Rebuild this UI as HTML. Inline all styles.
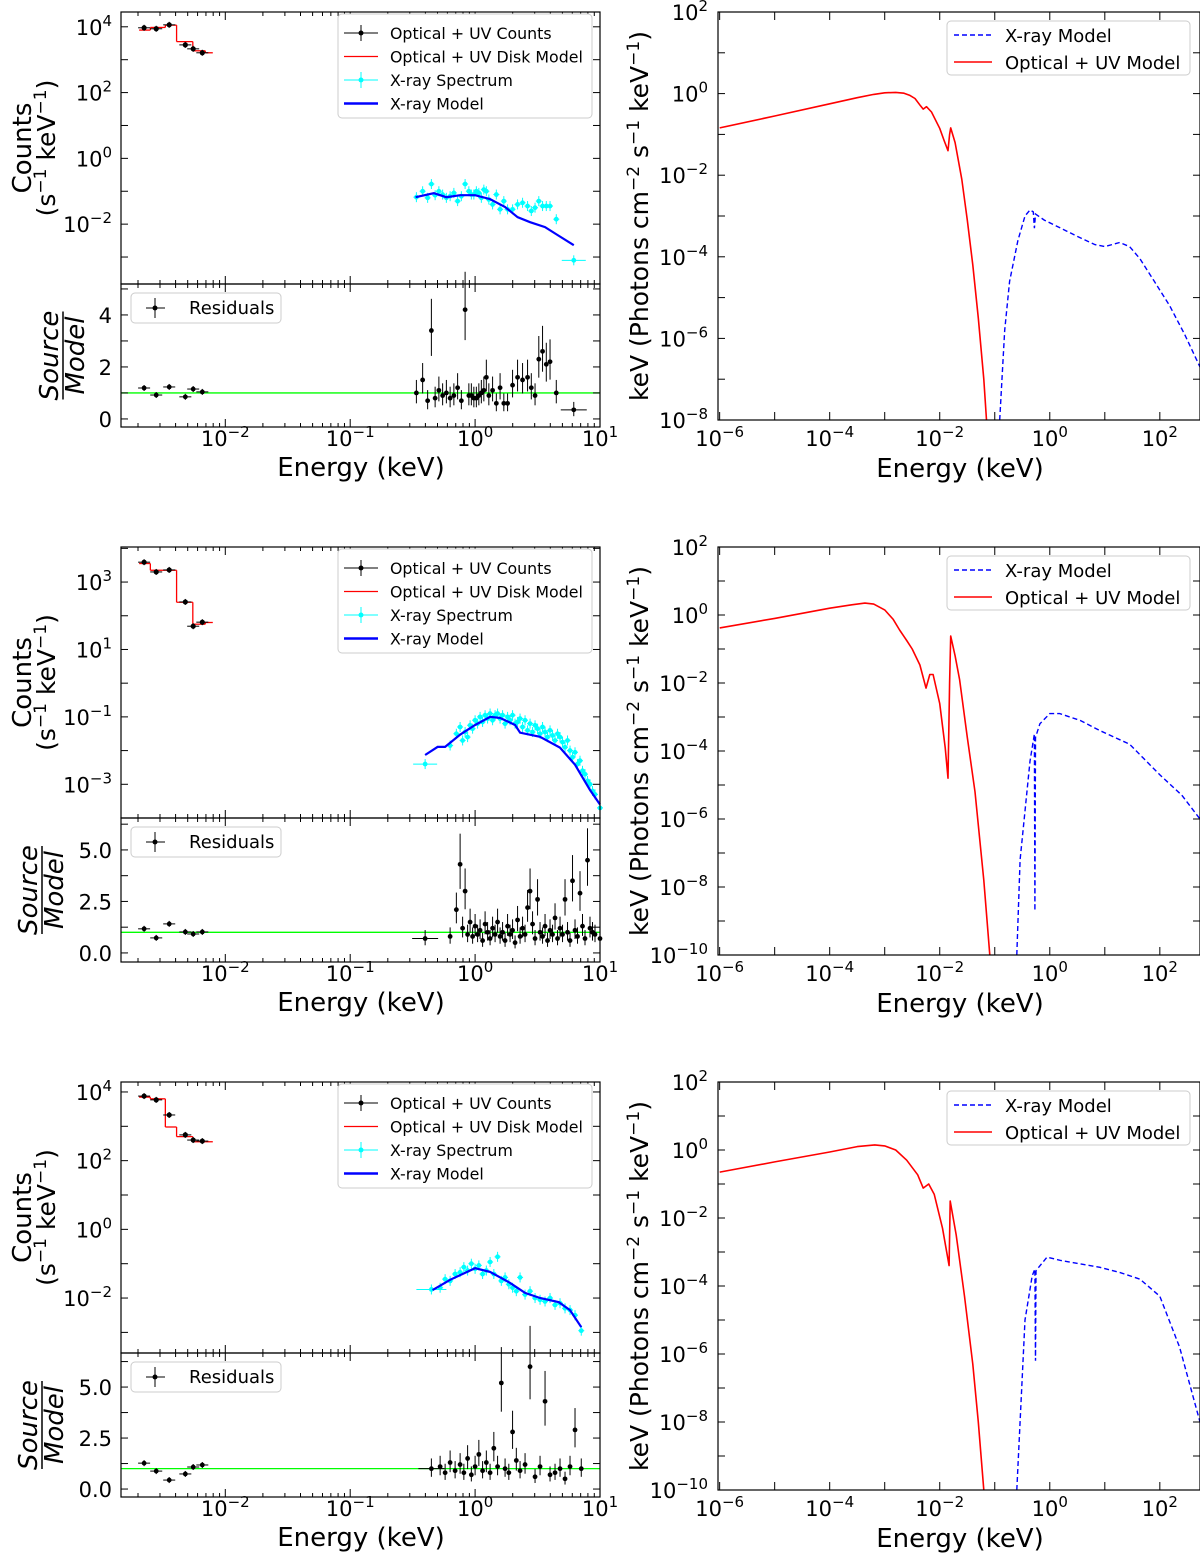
<!DOCTYPE html>
<html><head><meta charset="utf-8"><style>
body{margin:0;background:#fff}
svg{display:block;font-family:"DejaVu Sans","Liberation Sans",sans-serif}
</style></head><body>
<svg id="fig" width="1200" height="1553" viewBox="0 0 1200 1553" xmlns="http://www.w3.org/2000/svg"></svg>
<script>
// ---------- DATA ----------
const optLogE = [-2.65,-2.553,-2.449,-2.32,-2.257,-2.184];
const stepEdgesLogE = [-2.69,-2.60,-2.48,-2.39,-2.26,-2.16,-2.10];
const opt1LogC = [3.97,3.94,4.06,3.45,3.33,3.21];
const step1LogC = [3.9,3.98,4.05,3.55,3.27,3.21];
const opt1Res = [1.19,0.92,1.23,0.85,1.15,1.04];
const opt2LogC = [3.59,3.30,3.36,2.41,1.69,1.81];
const step2LogC = [3.55,3.35,3.35,2.4,1.75,1.8];
const opt2Res = [1.17,0.73,1.41,1.02,0.92,1.02];
const opt3LogC = [3.88,3.77,3.33,2.75,2.6,2.57];
const step3LogC = [3.85,3.8,2.98,2.7,2.55,2.55];
const opt3Res = [1.27,0.88,0.44,0.74,1.08,1.18];

const x1LogE = [-0.47,-0.42,-0.38,-0.35,-0.32,-0.29,-0.26,-0.23,-0.2,-0.17,-0.14,-0.11,-0.08,-0.05,-0.03,-0.01,0.01,0.03,0.05,0.07,0.09,0.11,0.14,0.17,0.2,0.23,0.26,0.3,0.34,0.38,0.42,0.45,0.48,0.51,0.54,0.57,0.6,0.65,0.79];
const x1LogC = [-1.18,-1.0,-1.2,-0.78,-1.12,-1.0,-1.1,-1.2,-1.15,-1.05,-1.3,-1.15,-0.78,-1.0,-1.1,-1.1,-1.0,-1.05,-1.2,-0.95,-1.0,-1.25,-1.4,-1.1,-1.55,-1.3,-1.55,-1.55,-1.4,-1.35,-1.45,-1.6,-1.5,-1.3,-1.45,-1.45,-1.45,-1.85,-3.1];
const x1Res = [1.0,1.5,0.7,3.4,0.8,1.1,0.9,1.0,0.8,0.9,1.2,0.7,4.2,0.9,0.9,0.8,0.8,0.9,1.0,1.1,1.6,0.9,1.1,0.6,1.2,0.6,0.6,1.3,1.6,1.5,1.6,1.2,0.9,2.3,2.6,2.1,2.2,1.0,0.35];
const m1LogE = [-0.476,-0.33,-0.23,-0.12,0.0,0.12,0.24,0.34,0.44,0.56,0.66,0.79];
const m1LogC = [-1.18,-1.06,-1.18,-1.12,-1.12,-1.24,-1.48,-1.79,-1.94,-2.09,-2.33,-2.64];

const x2LogE = [-0.40,-0.20,-0.15,-0.12,-0.10,-0.08,-0.06,-0.04,-0.02,0.00,0.02,0.04,0.06,0.08,0.10,0.12,0.14,0.16,0.18,0.20,0.22,0.24,0.26,0.28,0.30,0.32,0.34,0.36,0.38,0.40,0.42,0.44,0.46,0.48,0.50,0.52,0.54,0.56,0.58,0.60,0.62,0.64,0.66,0.68,0.70,0.72,0.74,0.76,0.78,0.80,0.82,0.84,0.86,0.88,0.90,0.92,0.94,0.96,1.00];
const x2LogC = [-2.4,-1.85,-1.5,-1.3,-1.7,-1.45,-1.6,-1.25,-1.35,-1.1,-1.2,-1.0,-1.15,-0.95,-1.05,-0.9,-1.1,-0.95,-0.9,-1.05,-0.95,-1.2,-1.0,-1.1,-0.95,-1.2,-1.15,-1.05,-1.3,-1.1,-1.4,-1.2,-1.45,-1.25,-1.35,-1.5,-1.3,-1.45,-1.6,-1.4,-1.55,-1.7,-1.5,-1.6,-1.75,-1.9,-1.7,-2.0,-2.2,-2.05,-2.4,-2.3,-2.6,-2.7,-2.9,-3.0,-3.2,-3.3,-3.7];
const x2Res = [0.7,0.8,2.1,4.3,1.2,3.0,0.9,1.5,0.8,1.3,0.9,1.1,0.6,1.4,1.0,0.7,1.2,0.9,1.5,0.8,1.0,0.6,1.3,0.9,1.1,0.5,1.6,0.8,1.2,0.9,2.2,3.0,1.4,0.7,2.6,1.0,0.8,1.3,0.6,1.1,0.9,1.7,0.7,1.2,0.9,2.6,1.0,0.6,3.5,1.1,0.8,2.9,1.3,0.7,4.5,1.2,1.0,0.9,0.7];
const m2LogE = [-0.40,-0.30,-0.24,-0.12,0.0,0.12,0.20,0.32,0.36,0.52,0.68,0.80,0.92,1.0];
const m2LogC = [-2.13,-1.89,-1.89,-1.53,-1.24,-1.0,-1.03,-1.24,-1.47,-1.59,-1.91,-2.42,-3.17,-3.6];

const x3LogE = [-0.35,-0.28,-0.24,-0.2,-0.16,-0.12,-0.09,-0.06,-0.03,0.0,0.03,0.06,0.09,0.12,0.15,0.18,0.21,0.24,0.27,0.3,0.33,0.36,0.4,0.44,0.48,0.52,0.56,0.6,0.64,0.68,0.72,0.76,0.8,0.85];
const x3LogC = [-1.75,-1.7,-1.45,-1.5,-1.3,-1.25,-1.1,-1.2,-1.0,-1.15,-1.05,-1.3,-1.2,-0.95,-1.3,-0.8,-1.5,-1.4,-1.6,-1.7,-1.8,-1.4,-1.9,-1.8,-2.0,-2.05,-2.1,-2.0,-2.2,-2.15,-2.3,-2.35,-2.5,-2.95];
const x3Res = [1.0,1.1,0.8,1.3,0.9,1.2,0.8,1.5,0.7,1.1,1.7,0.9,1.3,0.8,2.0,1.1,5.2,1.0,0.8,2.8,1.4,0.9,1.2,6.0,0.6,1.1,4.3,0.7,0.8,1.0,0.5,1.1,2.9,1.0];
const m3LogE = [-0.34,-0.2,0.0,0.12,0.28,0.4,0.52,0.67,0.76,0.85];
const m3LogC = [-1.77,-1.47,-1.13,-1.24,-1.56,-1.85,-2.0,-2.12,-2.35,-2.85];

const r1RedE = [-6,-5,-4,-3.5,-3.2,-3,-2.8,-2.65,-2.55,-2.45,-2.35,-2.3,-2.24,-2.15,-2.0,-1.92,-1.85,-1.82,-1.8,-1.72,-1.6,-1.5,-1.4,-1.3,-1.2,-1.15];
const r1RedF = [-0.84,-0.55,-0.25,-0.1,-0.02,0.02,0.03,0.01,-0.04,-0.12,-0.3,-0.38,-0.32,-0.45,-0.85,-1.15,-1.4,-1.0,-0.84,-1.2,-2.1,-3.1,-4.2,-5.5,-7.0,-8.0];
const r1BlueE = [-0.91,-0.82,-0.73,-0.58,-0.45,-0.36,-0.3,-0.28,-0.26,-0.1,0.2,0.5,0.82,1.0,1.27,1.45,1.64,1.9,2.18,2.45,2.73];
const r1BlueF = [-8.0,-5.8,-4.6,-3.6,-3.0,-2.85,-2.9,-3.3,-2.95,-3.1,-3.3,-3.5,-3.7,-3.75,-3.65,-3.75,-4.05,-4.6,-5.2,-5.9,-6.7];
const r2RedE = [-6,-5,-4,-3.6,-3.36,-3.2,-3.0,-2.85,-2.73,-2.6,-2.5,-2.36,-2.25,-2.18,-2.12,-2.0,-1.9,-1.85,-1.82,-1.8,-1.72,-1.64,-1.5,-1.36,-1.2,-1.09];
const r2RedF = [-0.38,-0.1,0.2,0.3,0.35,0.32,0.15,-0.12,-0.44,-0.75,-1.0,-1.47,-2.15,-1.75,-1.75,-2.6,-3.9,-4.8,-2.0,-0.62,-1.2,-1.9,-3.6,-5.2,-7.8,-10];
const r2BlueE = [-0.6,-0.54,-0.36,-0.28,-0.27,-0.26,-0.18,0.0,0.18,0.55,0.91,1.45,2.0,2.4,2.73];
const r2BlueF = [-10,-7.2,-4.3,-3.5,-8.7,-3.6,-3.2,-2.9,-2.9,-3.1,-3.4,-3.8,-4.7,-5.3,-6.0];
const r3RedE = [-6,-5,-4,-3.5,-3.18,-3.0,-2.8,-2.6,-2.4,-2.3,-2.2,-2.1,-1.95,-1.83,-1.81,-1.7,-1.55,-1.4,-1.3,-1.2];
const r3RedF = [-0.65,-0.35,-0.06,0.1,0.15,0.12,0.0,-0.3,-0.73,-1.12,-1.0,-1.3,-2.3,-3.4,-1.5,-2.5,-4.3,-6.3,-8.0,-10];
const r3BlueE = [-0.6,-0.45,-0.32,-0.27,-0.26,-0.25,-0.05,0.2,0.55,0.91,1.27,1.64,2.0,2.36,2.73];
const r3BlueF = [-10,-5.0,-3.7,-3.5,-6.2,-3.55,-3.15,-3.25,-3.35,-3.45,-3.6,-3.8,-4.3,-5.8,-8.0];

const leftPanels = [
 {top:12,mid:284,bot:427,ymin:-3.82,ymax:4.45,ylab:[4,2,0,-2],rmin:-0.31,rmax:5.19,rlab:[0,2,4],rfmt:0,opt:opt1LogC,step:step1LogC,optR:opt1Res,xe:x1LogE,xc:x1LogC,xr:x1Res,me:m1LogE,mc:m1LogC},
 {top:547,mid:818,bot:962,ymin:-4.0,ymax:4.04,ylab:[3,1,-1,-3],rmin:-0.44,rmax:6.55,rlab:[0,2.5,5],rfmt:1,opt:opt2LogC,step:step2LogC,optR:opt2Res,xe:x2LogE,xc:x2LogC,xr:x2Res,me:m2LogE,mc:m2LogC},
 {top:1082,mid:1353,bot:1497,ymin:-3.6,ymax:4.29,ylab:[4,2,0,-2],rmin:-0.39,rmax:6.67,rlab:[0,2.5,5],rfmt:1,opt:opt3LogC,step:step3LogC,optR:opt3Res,xe:x3LogE,xc:x3LogC,xr:x3Res,me:m3LogE,mc:m3LogC}
];
const rightPanels = [
 {top:12,bot:420,ymin:-8,ymax:2,re:r1RedE,rf:r1RedF,be:r1BlueE,bf:r1BlueF},
 {top:547,bot:955,ymin:-10,ymax:2,re:r2RedE,rf:r2RedF,be:r2BlueE,bf:r2BlueF},
 {top:1082,bot:1490,ymin:-10,ymax:2,re:r3RedE,rf:r3RedF,be:r3BlueE,bf:r3BlueF}
];

// ---------- DRAW ----------
const NS='http://www.w3.org/2000/svg';
const svg=document.getElementById('fig');
function el(tag,attrs,parent,text){const e=document.createElementNS(NS,tag);for(const k in attrs)e.setAttribute(k,attrs[k]);if(text!==undefined)e.textContent=text;(parent||svg).appendChild(e);return e;}
function pathD(xs,ys){return xs.map((x,i)=>(i?'L':'M')+x.toFixed(1)+','+ys[i].toFixed(1)).join('');}
function powLabel(g,x,y,exp,anchor){
  const t=el('text',{x:x,y:y,'font-size':21,'text-anchor':anchor,fill:'#000'},g);
  el('tspan',{},t,'10');
  el('tspan',{dy:-9,'font-size':15},t,exp<0?'\u2212'+(-exp):String(exp));
  return t;
}
function logXTicks(g,X,emin,emax,yTop,yBot){
  for(let d=Math.floor(emin);d<=Math.ceil(emax);d++){
    for(let m=1;m<10;m++){
      const le=d+Math.log10(m); if(le<emin||le>emax)continue;
      const x=X(le), L=m===1?8:4;
      el('line',{x1:x,y1:yBot,x2:x,y2:yBot-L,stroke:'#000','stroke-width':1},g);
      el('line',{x1:x,y1:yTop,x2:x,y2:yTop+L,stroke:'#000','stroke-width':1},g);
    }
  }
}

const LX0=121,LX1=600,LEMIN=-2.835,LEMAX=1.0;
const LX=le=>LX0+(le-LEMIN)/(LEMAX-LEMIN)*(LX1-LX0);

leftPanels.forEach((p,pi)=>{
  const g=el('g',{},svg);
  
  
  const Y=v=>p.top+(p.ymax-v)/(p.ymax-p.ymin)*(p.mid-p.top);
  const R=v=>p.mid+(p.rmax-v)/(p.rmax-p.rmin)*(p.bot-p.mid);
  for(let i=0;i<p.step.length;i++){
    const s=el('line',{x1:LX(stepEdgesLogE[i]),x2:LX(stepEdgesLogE[i+1]),y1:Y(p.step[i]),y2:Y(p.step[i]),stroke:'#f00','stroke-width':1.3},g);
    
    
    if(i>0) el('line',{x1:LX(stepEdgesLogE[i]),x2:LX(stepEdgesLogE[i]),y1:Y(p.step[i-1]),y2:Y(p.step[i]),stroke:'#f00','stroke-width':1.3},g);
  }
  p.opt.forEach((c,i)=>{
    const x=LX(optLogE[i]),y=Y(c);
    el('line',{x1:x-6,x2:x+6,y1:y,y2:y,stroke:'#000','stroke-width':1},g);
    el('line',{x1:x,x2:x,y1:y-3,y2:y+3,stroke:'#000','stroke-width':1},g);
    const d=el('circle',{cx:x,cy:y,r:2.6,fill:'#000'},g);
    
    
  });
  p.xc.forEach((c,i)=>{
    const x=LX(p.xe[i]),y=Y(c);
    const wide=(i===0&&pi===1)||(i===p.xc.length-1&&pi===0);
    const hw=wide?12:(pi===2&&i===0?15:3);
    el('line',{x1:x-hw,x2:x+hw,y1:y,y2:y,stroke:'#0ff','stroke-width':1},g);
    el('line',{x1:x,x2:x,y1:y-5,y2:y+5,stroke:'#0ff','stroke-width':1},g);
    const d=el('circle',{cx:x,cy:y,r:2.4,fill:'#0ff'},g);
    
    
  });
  const ml=el('path',{d:pathD(p.me.map(LX),p.mc.map(Y)),fill:'none',stroke:'#0000ff','stroke-width':2.2},g);
  
  
  const one=el('line',{x1:LX0,x2:LX1,y1:R(1),y2:R(1),stroke:'#00ff00','stroke-width':1.3},g);
  
  
  const resPt=(x,v,hw,hasErr)=>{
    const y=R(v), e=(0.3*v+0.2)*(p.bot-p.mid)/(p.rmax-p.rmin);
    el('line',{x1:x-hw,x2:x+hw,y1:y,y2:y,stroke:'#000','stroke-width':1},g);
    el('line',{x1:x,x2:x,y1:y-(hasErr?e:3),y2:y+(hasErr?e*0.8:3),stroke:'#000','stroke-width':1},g);
    const d=el('circle',{cx:x,cy:y,r:2.4,fill:'#000'},g);
    
    
  };
  p.optR.forEach((v,i)=>resPt(LX(optLogE[i]),v,6,false));
  p.xr.forEach((v,i)=>{
    const wide=(i===0&&pi===1)||(i===p.xr.length-1&&pi===0)||(i===0&&pi===2);
    resPt(LX(p.xe[i]),v,wide?13:2,true);
  });
  el('rect',{x:LX0,y:p.top,width:LX1-LX0,height:p.mid-p.top,fill:'none',stroke:'#000','stroke-width':1.2},g);
  el('rect',{x:LX0,y:p.mid,width:LX1-LX0,height:p.bot-p.mid,fill:'none',stroke:'#000','stroke-width':1.2},g);
  logXTicks(g,LX,LEMIN,LEMAX,p.top,p.mid);
  logXTicks(g,LX,LEMIN,LEMAX,p.mid,p.bot);
  for(let d=Math.ceil(p.ymin);d<=Math.floor(p.ymax);d++){
    const y=Y(d);
    el('line',{x1:LX0,x2:LX0+7,y1:y,y2:y,stroke:'#000'},g);
    el('line',{x1:LX1,x2:LX1-7,y1:y,y2:y,stroke:'#000'},g);
  }
  p.ylab.forEach(d=>{const t=powLabel(g,112,Y(d)+8,d,'end');});
  const rstep=p.rfmt?1.25:1;
  for(let v=0;v<=p.rmax;v+=rstep){
    el('line',{x1:LX0,x2:LX0+7,y1:R(v),y2:R(v),stroke:'#000'},g);
    el('line',{x1:LX1,x2:LX1-7,y1:R(v),y2:R(v),stroke:'#000'},g);
  }
  p.rlab.forEach(v=>{const t=el('text',{x:112,y:R(v)+8,'font-size':21,'text-anchor':'end'},g,p.rfmt?v.toFixed(1):String(v));});
  [-2,-1,0,1].forEach(d=>{const t=powLabel(g,LX(d),p.bot+19,d,'middle');});
  const xl=el('text',{x:361,y:p.bot+49,'font-size':26,'text-anchor':'middle'},g,'Energy (keV)');
  
  const cy=(p.top+p.mid)/2;
  const yt=el('text',{transform:`translate(31,${cy}) rotate(-90)`,'font-size':26,'text-anchor':'middle'},g,'Counts');
  
  const yt2=el('text',{transform:`translate(55,${cy}) rotate(-90)`,'font-size':25,'text-anchor':'middle'},g);
  el('tspan',{},yt2,'(s');el('tspan',{dy:-9,'font-size':17},yt2,'\u22121');el('tspan',{dy:9},yt2,' keV');el('tspan',{dy:-9,'font-size':17},yt2,'\u22121');el('tspan',{dy:9},yt2,')');
  const ry=(p.mid+p.bot)/2, rx=pi===0?60:39;
  const f1=el('text',{transform:`translate(${rx},${ry}) rotate(-90)`,'font-size':26,'font-style':'italic','text-anchor':'middle',dy:-2},g,'Source');
  
  el('line',{x1:rx+3,x2:rx+3,y1:ry-44,y2:ry+44,stroke:'#000','stroke-width':1.5},g);
  el('text',{transform:`translate(${rx},${ry}) rotate(-90)`,'font-size':26,'font-style':'italic','text-anchor':'middle',dy:24},g,'Model');
  const lg=el('g',{},g);
  
  const ly=p.top+2;
  el('rect',{x:338,y:ly,width:254,height:104,rx:4,fill:'#fff',stroke:'#ccc'},lg);
  const items=[['Optical + UV Counts','#000','pt'],['Optical + UV Disk Model','#f00','ln'],['X-ray Spectrum','#0ff','pt'],['X-ray Model','#00f','thick']];
  items.forEach((it,i)=>{
    const yy=ly+19+i*23.5;
    if(it[2]==='pt'){el('line',{x1:344,x2:378,y1:yy,y2:yy,stroke:it[1]},lg);el('line',{x1:361,x2:361,y1:yy-8,y2:yy+8,stroke:it[1]},lg);el('circle',{cx:361,cy:yy,r:2.5,fill:it[1]},lg);}
    else el('line',{x1:344,x2:378,y1:yy,y2:yy,stroke:it[1],'stroke-width':it[2]==='thick'?2.5:1.3},lg);
    el('text',{x:390,y:yy+6,'font-size':15.8},lg,it[0]);
  });
  const rl=el('g',{},g);
  
  el('rect',{x:131,y:p.mid+9,width:150,height:30,rx:4,fill:'#fff',stroke:'#ccc'},rl);
  const yy=p.mid+24;
  el('line',{x1:146,x2:165,y1:yy,y2:yy,stroke:'#000'},rl);el('line',{x1:155,x2:155,y1:yy-10,y2:yy+10,stroke:'#000'},rl);el('circle',{cx:155,cy:yy,r:2.5,fill:'#000'},rl);
  el('text',{x:189,y:yy+6,'font-size':18},rl,'Residuals');
});

const RX0=718,RX1=1200,REMIN=-6.03,REMAX=2.73;
const RX=le=>RX0+(le-REMIN)/(REMAX-REMIN)*(RX1-RX0);
rightPanels.forEach((p,pi)=>{
  const g=el('g',{},svg);
  
  
  const Y=v=>p.top+(p.ymax-v)/(p.ymax-p.ymin)*(p.bot-p.top);
  const cp=`cp${pi}`;
  const defs=el('defs',{},g);const c=el('clipPath',{id:cp},defs);el('rect',{x:RX0,y:p.top,width:RX1-RX0,height:p.bot-p.top},c);
  const red=el('path',{d:pathD(p.re.map(RX),p.rf.map(Y)),fill:'none',stroke:'#f00','stroke-width':1.6,'stroke-linejoin':'round','clip-path':`url(#${cp})`},g);
  
  const blue=el('path',{d:pathD(p.be.map(RX),p.bf.map(Y)),fill:'none',stroke:'#0000ff','stroke-width':1.4,'stroke-dasharray':'5,3','clip-path':`url(#${cp})`},g);
  
  el('rect',{x:RX0,y:p.top,width:RX1-RX0,height:p.bot-p.top,fill:'none',stroke:'#000','stroke-width':1.2},g);
  for(let d=-6;d<=2;d++){const x=RX(d);el('line',{x1:x,x2:x,y1:p.bot,y2:p.bot-8,stroke:'#000'},g);el('line',{x1:x,x2:x,y1:p.top,y2:p.top+8,stroke:'#000'},g);}
  for(let d=p.ymin;d<=p.ymax;d++){const y=Y(d);el('line',{x1:RX0,x2:RX0+7,y1:y,y2:y,stroke:'#000'},g);el('line',{x1:RX1,x2:RX1-7,y1:y,y2:y,stroke:'#000'},g);}
  for(let d=p.ymin;d<=p.ymax;d+=2){const t=powLabel(g,708,Y(d)+8,d,'end');}
  [-6,-4,-2,0,2].forEach(d=>{const t=powLabel(g,RX(d),p.bot+26,d,'middle');});
  const xl=el('text',{x:960,y:p.bot+57,'font-size':26,'text-anchor':'middle'},g,'Energy (keV)');
  
  const yt=el('text',{transform:`translate(648,${(p.top+p.bot)/2}) rotate(-90)`,'font-size':25,'text-anchor':'middle'},g);
  
  el('tspan',{},yt,'keV (Photons cm');el('tspan',{dy:-9,'font-size':17},yt,'\u22122');el('tspan',{dy:9},yt,' s');el('tspan',{dy:-9,'font-size':17},yt,'\u22121');el('tspan',{dy:9},yt,' keV');el('tspan',{dy:-9,'font-size':17},yt,'\u22121');el('tspan',{dy:9},yt,')');
  const lg=el('g',{},g);
  
  el('rect',{x:947,y:p.top+9,width:243,height:54,rx:4,fill:'#fff',stroke:'#ccc'},lg);
  el('line',{x1:954,x2:992,y1:p.top+23,y2:p.top+23,stroke:'#00f','stroke-width':1.5,'stroke-dasharray':'5,3'},lg);
  el('text',{x:1005,y:p.top+30,'font-size':18},lg,'X-ray Model');
  el('line',{x1:954,x2:992,y1:p.top+50,y2:p.top+50,stroke:'#f00','stroke-width':1.5},lg);
  el('text',{x:1005,y:p.top+57,'font-size':18},lg,'Optical + UV Model');
});
</script>
</body></html>
